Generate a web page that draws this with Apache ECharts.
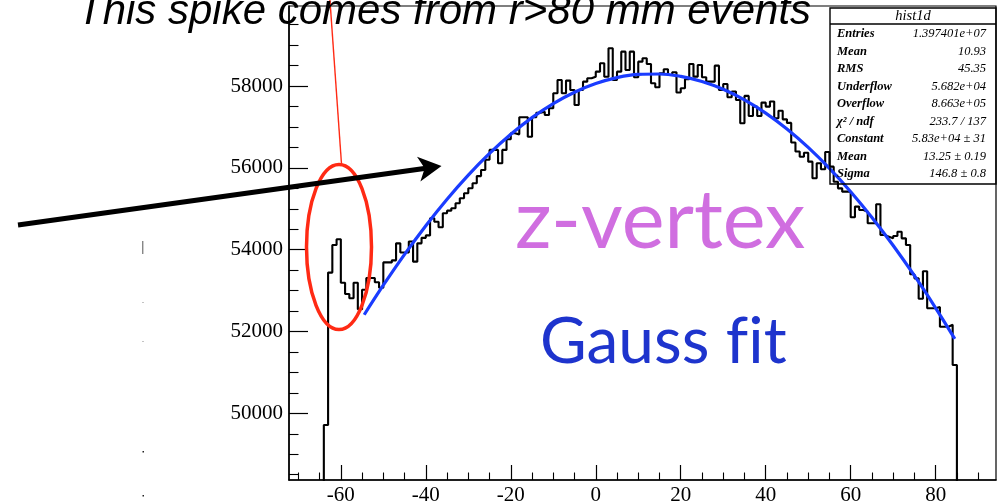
<!DOCTYPE html>
<html>
<head>
<meta charset="utf-8">
<script src="https://cdn.jsdelivr.net/npm/echarts@6/dist/echarts.min.js"></script>
<style>
  html, body { margin: 0; padding: 0; background: #fff; }
  #chart { width: 1000px; height: 501px; }
</style>
</head>
<body>
<div id="chart"></div>
<script>
// z-vertex histogram: 1 mm bins starting at -64 mm
const binStart = -64;
const binWidth = 1;
const counts = [
  49714, 53440, 54115, 54254, 53193, 52917, 52812, 53193, 52543, 53020, // -64 .. -55
  53310, 53310, 53205, 53070, 53690, 53690, 53740, 54156, 53930, 53930, // -54 .. -45
  54200, 53708, 54156, 54290, 54350, 54768, 54685, 54548, 54890, 54955, // -44 .. -35
  55012, 55134, 55257, 55379, 55501, 55624, 55800, 55950, 56200, 56440, // -34 .. -25
  56440, 56112, 56440, 56700, 56846, 56820, 57237, 57237, 56763, 57237, // -24 .. -15
  57350, 57374, 57293, 57457, 57824, 58150, 57824, 58134, 57905, 57538, // -14 .. -5
  57905, 58108, 58190, 58230, 58353, 58557, 58230, 58924, 58150, 58353, //  -4 .. 5
  58842, 58394, 58842, 58215, 58598, 58680, 58541, 58069, 57971, 58313, //   6 .. 15
  58411, 58272, 58337, 57842, 57946, 58166, 58541, 58231, 58516, 58215, //  16 .. 25
  58109, 58109, 58500, 57907, 58051, 57726, 57866, 57660, 57090, 57760, //  26 .. 35
  57268, 57499, 57268, 57597, 57499, 57622, 57212, 57398, 57187, 57100, //  36 .. 45
  56620, 56400, 56274, 56372, 56153, 55747, 56112, 55966, 56390, 56030, //  46 .. 55
  55663, 55500, 55419, 55419, 54793, 55054, 54971, 54930, 54646, 54646, //  56 .. 65
  55110, 54359, 54319, 54278, 54335, 54440, 54278, 54115, 53400, 53300, //  66 .. 75
  52800, 53475, 52567, 52567, 52600, 52118, 52118, 52165, 51181          //  76 .. 84
];

// Gauss fit curve samples (z in mm, entries per bin)
const fitZ = [-54.5, -50, -45, -40, -35, -30, -25, -20, -15, -10, -5, 0, 5, 10, 15,
              20, 25, 30, 35, 40, 45, 50, 55, 60, 65, 70, 75, 80, 84.5];
const fitValues = [52410, 53132, 53887, 54588, 55234, 55824, 56354, 56823, 57230, 57574,
                   57851, 58063, 58208, 58286, 58296, 58238, 58113, 57922, 57663, 57340,
                   56952, 56501, 55989, 55418, 54788, 54102, 53364, 52574, 51822];

// axis tick labels
const xTickLabels = [-60, -40, -20, 0, 20, 40, 60, 80];
const yTickLabels = [50000, 52000, 54000, 56000, 58000];

// statistics box
const statTitle = 'hist1d';
const statNames = ['Entries', 'Mean', 'RMS', 'Underflow', 'Overflow', 'χ² / ndf', 'Constant', 'Mean', 'Sigma'];
const statValues = ['1.397401e+07', '10.93', '45.35', '5.682e+04', '8.663e+05', '233.7 / 137',
                    '5.83e+04 ± 31', '13.25 ± 0.19', '146.8 ± 0.8'];

// annotation texts (ZWNJ keeps "f" and "i" as separate glyphs)
const noteText = 'This spike comes from r>80 mm events';
const bigLabel1 = 'z-vertex';
const bigLabel2 = 'Gauss f\u200Cit';

// axis ranges
const xMin = -72.2, xMax = 94.2;
const yMin = 48370, yMax = 59958;

// minor tick positions (every 5 mm / every 500 entries)
const xMinor = [];
for (let v = -70; v <= 90; v += 5) if (!xTickLabels.includes(v)) xMinor.push(v);
const yMinor = [];
for (let v = 48500; v <= 59500; v += 500) if (!yTickLabels.includes(v)) yMinor.push(v);

// step outline of the histogram
const histPoints = [[binStart, 0]];
counts.forEach((c, i) => histPoints.push([binStart + i * binWidth, c]));
histPoints.push([binStart + counts.length * binWidth, 0]);

const fitPoints = fitZ.map((z, i) => [z, fitValues[i]]);

const serif = '"Liberation Serif", "Times New Roman", serif';
const LEFT = 289, TOP = 6, W = 707, H = 474;

const chart = echarts.init(document.getElementById('chart'), null, { renderer: 'canvas' });

const statGraphics = [];
statGraphics.push({
  type: 'rect', z: 20,
  shape: { x: 830, y: 8, width: 166, height: 176 },
  style: { fill: 'none', stroke: '#000', lineWidth: 1.4 }
});
statGraphics.push({
  type: 'line', z: 20,
  shape: { x1: 830, y1: 24, x2: 996, y2: 24 },
  style: { stroke: '#000', lineWidth: 1.3 }
});
statGraphics.push({
  type: 'text', z: 21, x: 913, y: 16,
  style: { text: statTitle, font: 'italic 14.5px ' + serif, fill: '#000', align: 'center', verticalAlign: 'middle' }
});
statNames.forEach((n, i) => {
  const y = 34 + i * 17.5;
  statGraphics.push({
    type: 'text', z: 21, x: 837, y: y,
    style: { text: n, font: 'italic bold 12.5px ' + serif, fill: '#000', align: 'left', verticalAlign: 'middle' }
  });
  statGraphics.push({
    type: 'text', z: 21, x: 986, y: y,
    style: { text: statValues[i], font: 'italic 12.5px ' + serif, fill: '#000', align: 'right', verticalAlign: 'middle' }
  });
});

const option = {
  backgroundColor: '#fff',
  animation: false,
  grid: {
    left: LEFT, top: TOP, width: W, height: H,
    outerBoundsMode: 'none', containLabel: false,
    show: true, borderColor: '#000', borderWidth: 1.2, backgroundColor: 'transparent'
  },
  xAxis: [
    {
      type: 'value', min: xMin, max: xMax, position: 'bottom',
      axisLine: { show: true, onZero: false, lineStyle: { color: '#000', width: 1.5 } },
      axisTick: { show: true, inside: true, length: 15, customValues: xTickLabels, lineStyle: { color: '#000', width: 1.2 } },
      axisLabel: { show: true, customValues: xTickLabels, margin: 5, color: '#000', fontFamily: serif, fontSize: 21,
                   formatter: v => String(v) },
      splitLine: { show: false }
    },
    {
      type: 'value', min: xMin, max: xMax, position: 'bottom',
      axisLine: { show: false, onZero: false },
      axisTick: { show: true, inside: true, length: 7.5, customValues: xMinor, lineStyle: { color: '#000', width: 1.1 } },
      axisLabel: { show: false },
      splitLine: { show: false }
    }
  ],
  yAxis: [
    {
      type: 'value', min: yMin, max: yMax, position: 'left',
      axisLine: { show: true, onZero: false, lineStyle: { color: '#000', width: 1.5 } },
      axisTick: { show: true, inside: true, length: 19, customValues: yTickLabels, lineStyle: { color: '#000', width: 1.2 } },
      axisLabel: { show: true, customValues: yTickLabels, margin: 6, color: '#000', fontFamily: serif, fontSize: 21,
                   formatter: v => String(v) },
      splitLine: { show: false }
    },
    {
      type: 'value', min: yMin, max: yMax, position: 'left',
      axisLine: { show: false, onZero: false },
      axisTick: { show: true, inside: true, length: 9.5, customValues: yMinor, lineStyle: { color: '#000', width: 1.1 } },
      axisLabel: { show: false },
      splitLine: { show: false }
    }
  ],
  series: [
    {
      name: 'hist1d', type: 'line', xAxisIndex: 0, yAxisIndex: 0,
      data: histPoints, step: 'end', showSymbol: false, clip: true, z: 3,
      lineStyle: { color: '#000', width: 2.1 }
    },
    {
      name: 'gaus', type: 'line', xAxisIndex: 0, yAxisIndex: 0,
      data: fitPoints, smooth: 0.4, showSymbol: false, clip: true, z: 4,
      lineStyle: { color: '#1a3cff', width: 3.2 }
    }
  ],
  graphic: [
    // large annotation labels
    { type: 'text', z: 15, x: 515, y: 222,
      style: { text: bigLabel1, font: '81px Lato, "Open Sans", sans-serif', fill: '#d06ee0', align: 'left', verticalAlign: 'middle' } },
    { type: 'text', z: 15, x: 540, y: 342,
      style: { text: bigLabel2, font: '64px Lato, "Open Sans", sans-serif', fill: '#1e34cd', align: 'left', verticalAlign: 'middle' } },
    // red ellipse around the spike and its leader line
    { type: 'ellipse', z: 16, shape: { cx: 339, cy: 247, rx: 32.5, ry: 82.5 },
      style: { fill: 'none', stroke: '#ff2a14', lineWidth: 3.5 } },
    { type: 'line', z: 16, shape: { x1: 329.8, y1: -2, x2: 341.5, y2: 164 },
      style: { stroke: '#ff2a14', lineWidth: 1.4 } },
    // black arrow
    { type: 'line', z: 17, shape: { x1: 18, y1: 225, x2: 426, y2: 168.2 },
      style: { stroke: '#000', lineWidth: 5 } },
    { type: 'polygon', z: 17, shape: { points: [[441.5, 166], [417, 156.8], [424.7, 168.3], [420.4, 181.6]] },
      style: { fill: '#000' } },
    // note text at the top
    { type: 'text', z: 18, x: 77, y: 12.5,
      style: { text: noteText, font: 'italic 42px "Liberation Sans", Arial, sans-serif', fill: '#000', align: 'left', verticalAlign: 'middle' } },
    // small stray marks on the left
    { type: 'rect', z: 5, shape: { x: 142.3, y: 241, width: 1, height: 13 }, style: { fill: '#555' } },
    { type: 'rect', z: 5, shape: { x: 142.5, y: 302, width: 1, height: 1 }, style: { fill: '#888' } },
    { type: 'rect', z: 5, shape: { x: 142.5, y: 341, width: 1, height: 1 }, style: { fill: '#888' } },
    { type: 'rect', z: 5, shape: { x: 142.5, y: 451, width: 1.5, height: 1.5 }, style: { fill: '#222' } },
    { type: 'rect', z: 5, shape: { x: 142.5, y: 495, width: 1.5, height: 1.5 }, style: { fill: '#222' } }
  ].concat(statGraphics)
};

chart.setOption(option);
</script>
</body>
</html>
